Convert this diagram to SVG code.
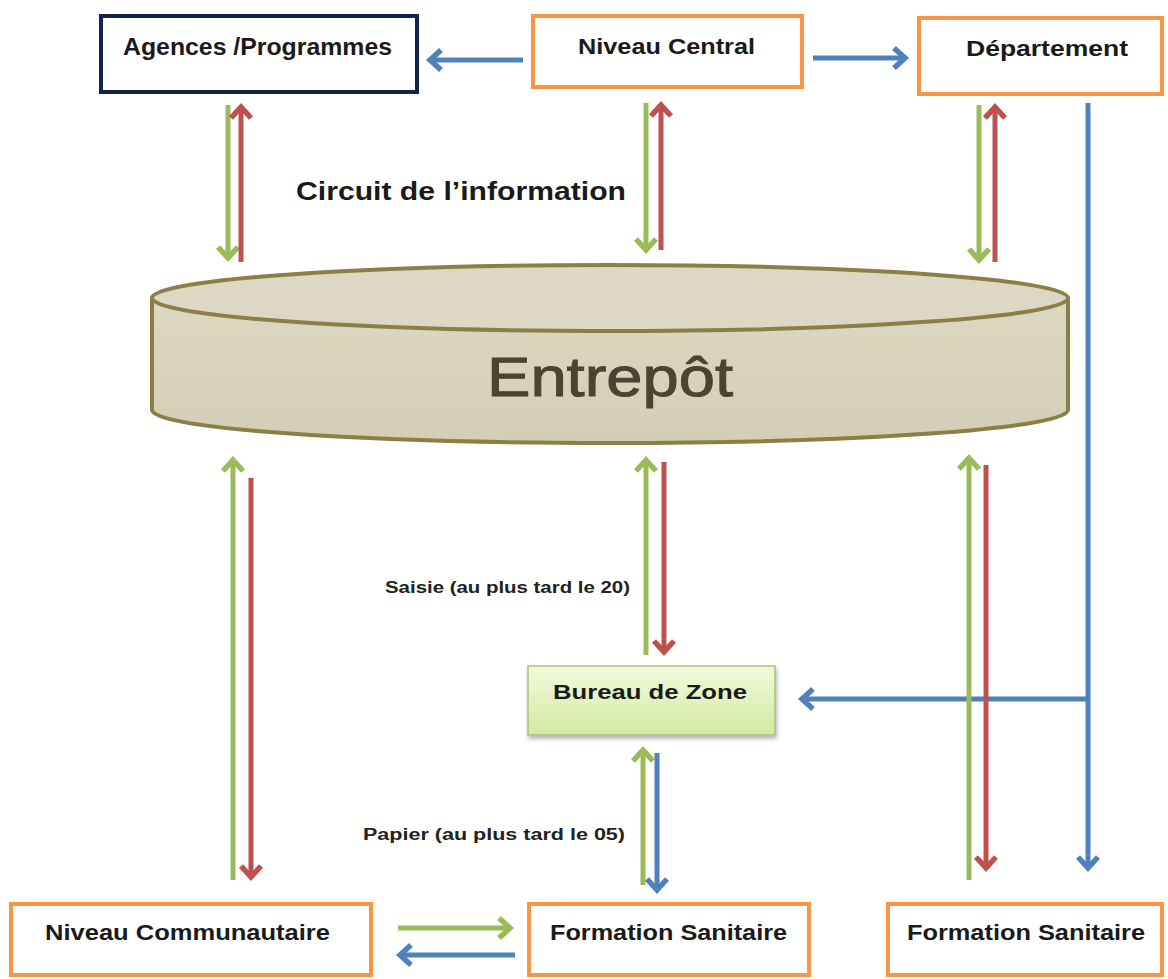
<svg xmlns="http://www.w3.org/2000/svg" width="1168" height="979" viewBox="0 0 1168 979">
<style>
.box{fill:#ffffff;stroke:#f79646;stroke-width:4}
.lbl{font-family:"Liberation Sans",Arial,sans-serif;font-weight:bold;fill:#1a1a1a;text-anchor:start}
.small{font-family:"Liberation Sans",Arial,sans-serif;font-weight:bold;fill:#222;font-size:16px}
.g{stroke:#9bbb59;stroke-width:5;fill:none;marker-end:url(#mg)}
.r{stroke:#c0504d;stroke-width:5;fill:none;marker-end:url(#mr)}
.b{stroke:#4f81bd;stroke-width:5;fill:none;marker-end:url(#mb)}
</style>
<defs>
<marker id="mg" markerUnits="userSpaceOnUse" markerWidth="26" markerHeight="26" viewBox="0 0 26 26" refX="18" refY="13" orient="auto"><path d="M7,3 L18,13 L7,23" fill="none" stroke="#9bbb59" stroke-width="5.5"/></marker>
<marker id="mr" markerUnits="userSpaceOnUse" markerWidth="26" markerHeight="26" viewBox="0 0 26 26" refX="18" refY="13" orient="auto"><path d="M7,3 L18,13 L7,23" fill="none" stroke="#c0504d" stroke-width="5.5"/></marker>
<marker id="mb" markerUnits="userSpaceOnUse" markerWidth="26" markerHeight="26" viewBox="0 0 26 26" refX="18" refY="13" orient="auto"><path d="M7,3 L18,13 L7,23" fill="none" stroke="#4f81bd" stroke-width="5.5"/></marker>
<linearGradient id="cyl" x1="0" y1="0" x2="0" y2="1"><stop offset="0" stop-color="#dcd8c2"/><stop offset="1" stop-color="#d3ceb4"/></linearGradient>
<linearGradient id="bz" x1="0" y1="0" x2="0" y2="1"><stop offset="0" stop-color="#f2f9dc"/><stop offset="1" stop-color="#d3eaa3"/></linearGradient>
<filter id="sh" x="-10%" y="-10%" width="120%" height="130%"><feDropShadow dx="1" dy="3" stdDeviation="2" flood-color="#000" flood-opacity="0.3"/></filter>
</defs>
<rect width="1168" height="979" fill="#ffffff"/>

<g id="connectors">
<path class="b" d="M523,60 L430,60"/>
<path class="b" d="M813,58 L905,58"/>
<path class="g" d="M228,105 L228,258"/>
<path class="r" d="M241,262 L241,107"/>
<path class="g" d="M646,103 L646,250"/>
<path class="r" d="M661,250 L661,105"/>
<path class="g" d="M979,105 L979,260"/>
<path class="r" d="M995,262 L995,107"/>
<path class="b" d="M1088,103 L1088,868"/>
<path class="b" d="M1088,699 L802,699"/>
<path class="g" d="M233,880 L233,460"/>
<path class="r" d="M251,478 L251,877"/>
<path class="g" d="M646,655 L646,460"/>
<path class="r" d="M664,462 L664,652"/>
<path class="g" d="M643,885 L643,750"/>
<path class="b" d="M657,753 L657,890"/>
<path class="g" d="M969,880 L969,458"/>
<path class="r" d="M986,465 L986,868"/>
<path class="g" d="M398,928 L510,928"/>
<path class="b" d="M515,955 L400,955"/>
</g>

<g id="agences">
<rect x="101" y="16" width="316" height="76" fill="#fff" stroke="#14224f" stroke-width="4"/>
<text class="lbl" x="123" y="55" font-size="23" textLength="269" lengthAdjust="spacingAndGlyphs">Agences /Programmes</text>
</g>
<g id="niveau-central">
<rect class="box" x="533" y="16" width="269" height="71"/>
<text class="lbl" x="578" y="54" font-size="22" textLength="177" lengthAdjust="spacingAndGlyphs">Niveau Central</text>
</g>
<g id="departement">
<rect class="box" x="919" y="18" width="243" height="76"/>
<text class="lbl" x="966" y="56" font-size="22" textLength="162" lengthAdjust="spacingAndGlyphs">Département</text>
</g>
<g id="circuit-label">
<text class="lbl" x="296" y="200" font-size="25" textLength="330" lengthAdjust="spacingAndGlyphs">Circuit de l’information</text>
</g>
<g id="entrepot">
<path d="M152,298 L152,410 A458,33 0 0 0 1068,410 L1068,298" fill="url(#cyl)" stroke="#8c7f46" stroke-width="4"/>
<ellipse cx="610" cy="298" rx="458" ry="33" fill="#dcd8c3" stroke="#8c7f46" stroke-width="4"/>
<text x="487" y="396" font-family="Liberation Sans, Arial, sans-serif" font-size="56" fill="#4a4430" stroke="#4a4430" stroke-width="1" textLength="246" lengthAdjust="spacingAndGlyphs">Entrepôt</text>
</g>
<g id="saisie-label">
<text class="small" x="385" y="593" textLength="245" lengthAdjust="spacingAndGlyphs">Saisie (au plus tard le 20)</text>
</g>
<g id="bureau-zone">
<rect x="528" y="666" width="247" height="69" fill="url(#bz)" stroke="#a9c27a" stroke-width="1.5" filter="url(#sh)"/>
<text class="lbl" x="553" y="699" font-size="21" textLength="194" lengthAdjust="spacingAndGlyphs">Bureau de Zone</text>
</g>
<g id="papier-label">
<text class="small" x="363" y="840" textLength="262" lengthAdjust="spacingAndGlyphs">Papier (au plus tard le 05)</text>
</g>
<g id="niveau-communautaire">
<rect class="box" x="11" y="904" width="360" height="71"/>
<text class="lbl" x="45" y="940" font-size="22" textLength="285" lengthAdjust="spacingAndGlyphs">Niveau Communautaire</text>
</g>
<g id="formation-sanitaire-1">
<rect class="box" x="529" y="904" width="280" height="71"/>
<text class="lbl" x="550" y="940" font-size="22" textLength="237" lengthAdjust="spacingAndGlyphs">Formation Sanitaire</text>
</g>
<g id="formation-sanitaire-2">
<rect class="box" x="888" y="904" width="274" height="71"/>
<text class="lbl" x="907" y="940" font-size="22" textLength="238" lengthAdjust="spacingAndGlyphs">Formation Sanitaire</text>
</g>
</svg>
